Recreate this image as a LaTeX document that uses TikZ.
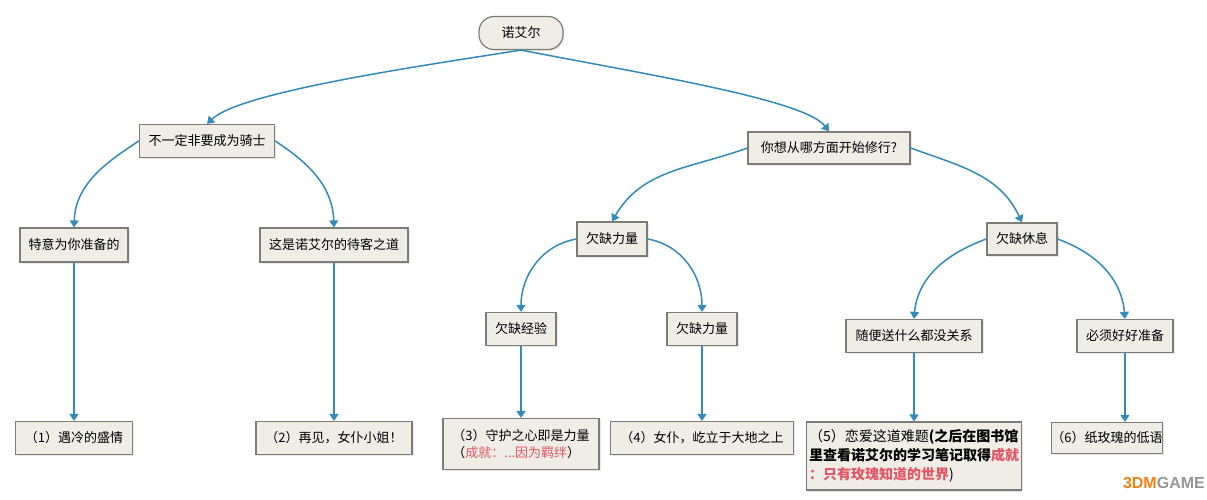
\documentclass[tikz,border=0pt]{standalone}
\usepackage{fontspec}
\newfontfamily\cjk{Noto Sans CJK SC}
\newfontfamily\wm{Liberation Sans}
\usetikzlibrary{arrows.meta,shadows}
\definecolor{ln}{RGB}{52,138,185}
\definecolor{bx}{RGB}{240,237,231}
\definecolor{bd}{RGB}{125,125,120}
\definecolor{rd}{RGB}{226,86,100}
\definecolor{wmo}{RGB}{240,130,20}
\definecolor{wmg}{RGB}{150,150,150}
\begin{document}
\begin{tikzpicture}[x=1pt,y=-1pt,
  box/.style={draw=bd, fill=bx, line width=1.2pt, minimum height=33pt, inner sep=0pt,
    font=\cjk\fontsize{13}{17}\selectfont,
    drop shadow={opacity=0.18, shadow xshift=1.5pt, shadow yshift=-1.5pt}},
  conn/.style={draw=ln, line width=1.5pt, -{Triangle[width=9pt,length=7pt]}}]
\useasboundingbox[fill=white] (0,0) rectangle (1207,500);
% nodes
\node[box, rounded corners=15pt, minimum width=84pt] (root) at (521,33) {诺艾尔};
\node[box, minimum width=135pt] (a) at (207,141) {不一定非要成为骑士};
\node[box, minimum width=162pt, minimum height=32pt] (b) at (829,148) {你想从哪方面开始修行?};
\node[box, minimum width=108pt, minimum height=34pt] (a1) at (74,245) {特意为你准备的};
\node[box, minimum width=148pt, minimum height=34pt] (a2) at (334,245) {这是诺艾尔的待客之道};
\node[box, minimum width=70pt, minimum height=34pt] (b1) at (612,239) {欠缺力量};
\node[box, minimum width=70pt, minimum height=32pt] (b2) at (1022,239) {欠缺休息};
\node[box, minimum width=70pt] (c1) at (521,329) {欠缺经验};
\node[box, minimum width=70pt] (c2) at (702,329) {欠缺力量};
\node[box, minimum width=136pt] (d1) at (914,336) {随便送什么都没关系};
\node[box, minimum width=96pt] (d2) at (1125,336) {必须好好准备};
\node[box, minimum width=117pt] (r1) at (74,438) {（1）遇冷的盛情};
\node[box, minimum width=156pt] (r2) at (334,438) {（2）再见，女仆小姐！};
\node[box, minimum width=156pt, minimum height=51pt, align=left] (r3) at (521,444)
  {（3）守护之心即是力量\\（\textcolor{rd}{成就：...因为羁绊}）};
\node[box, minimum width=183pt] (r4) at (702,438) {（4）女仆，屹立于大地之上};
\node[box, minimum width=215pt, minimum height=68pt, align=left, font=\cjk\fontsize{14}{19}\selectfont] (r5) at (914,456)
  {（5）恋爱这道难题\textbf{(之后在图书馆}\\\textbf{里查看诺艾尔的学习笔记取得\textcolor{rd}{成就}}\\\textcolor{rd}{\textbf{：只有玫瑰知道的世界}})};
\node[box, minimum width=93pt, minimum height=31pt] (r6) at (1107,438) {（6）纸玫瑰的低语};
\node[font=\wm\bfseries\fontsize{16}{18}\selectfont, inner sep=0pt, anchor=east] (wmk) at (1205,483)
  {\textcolor{wmo}{3DM}\textcolor{wmg}{GAME}};
% connectors
\draw[conn] (root.south) .. controls (420,66) and (240,92) .. (a.north);
\draw[conn] (root.south) .. controls (650,75) and (805,100) .. (b.north);
\draw[conn] (a.west) to[out=213, in=88] (a1.north);
\draw[conn] (a.east) to[out=-33, in=92] (a2.north);
\draw[conn] (b.west) to[out=200, in=60] (b1.north);
\draw[conn] (b.east) to[out=-20, in=115] (b2.north);
\draw[conn] (b1.west) to[out=190, in=90] (c1.north);
\draw[conn] (b1.east) to[out=-10, in=90] (c2.north);
\draw[conn] (b2.west) to[out=200, in=85] (d1.north);
\draw[conn] (b2.east) to[out=-20, in=95] (d2.north);
\draw[conn] (a1.south) -- (r1.north);
\draw[conn] (a2.south) -- (r2.north);
\draw[conn] (c1.south) -- (r3.north);
\draw[conn] (c2.south) -- (r4.north);
\draw[conn] (d1.south) -- (r5.north);
\draw[conn] (d2.south) -- (d2.south |- r6.north);
\end{tikzpicture}
\end{document}
